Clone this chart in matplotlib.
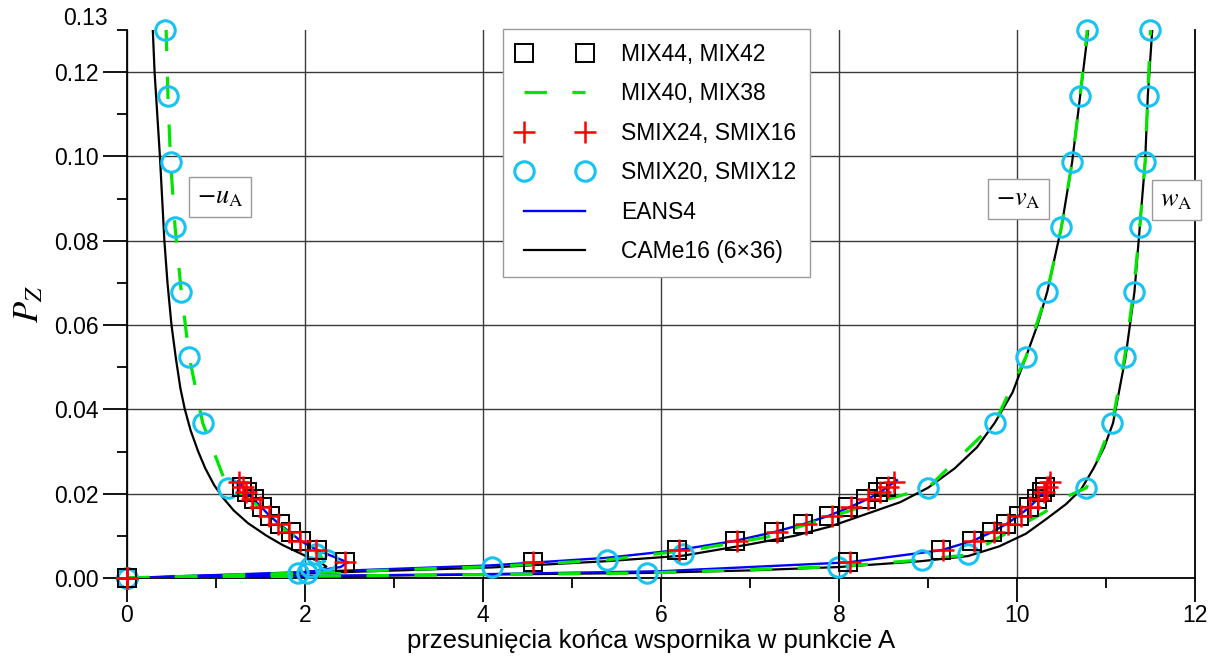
import numpy as np
import matplotlib
matplotlib.use("Agg")
from matplotlib import pyplot as plt
from matplotlib.lines import Line2D

plt.rcParams["font.family"] = ["Liberation Sans", "DejaVu Sans"]
plt.rcParams["mathtext.fontset"] = "stix"

# MIX44, MIX42 (squares)
P_mix = [0, 0.0037, 0.0066, 0.0088, 0.0109, 0.0128, 0.0148, 0.0168, 0.0187, 0.0203, 0.0215]
u_mix = [0, 2.45, 2.13, 1.95, 1.84, 1.72, 1.61, 1.52, 1.43, 1.35, 1.29]
v_mix = [0, 4.56, 6.18, 6.83, 7.27, 7.60, 7.89, 8.10, 8.30, 8.44, 8.53]
w_mix = [0, 8.10, 9.15, 9.50, 9.72, 9.88, 10.02, 10.13, 10.22, 10.28, 10.31]

# SMIX24, SMIX16 (crosses)
P_smix24 = [0, 0.0037, 0.0066, 0.0088, 0.0109, 0.0128, 0.0148, 0.0168, 0.0187, 0.0203, 0.0215, 0.0227]
u_smix24 = [0, 2.45, 2.12, 1.94, 1.82, 1.70, 1.59, 1.50, 1.41, 1.34, 1.30, 1.26]
v_smix24 = [0, 4.56, 6.20, 6.85, 7.30, 7.63, 7.92, 8.13, 8.33, 8.46, 8.55, 8.62]
w_smix24 = [0, 8.12, 9.17, 9.52, 9.74, 9.90, 10.04, 10.15, 10.24, 10.30, 10.34, 10.37]

# SMIX20, SMIX12 (circles)
P_smix20 = [0, 0.0012, 0.0026, 0.0043, 0.0058, 0.0214, 0.0368, 0.0524, 0.0679, 0.0833, 0.0987, 0.1144, 0.13]
u_smix20 = [0, 1.92, 2.06, 2.25, 2.12, 1.13, 0.85, 0.70, 0.61, 0.54, 0.49, 0.46, 0.43]
v_smix20 = [0, 2.02, 4.10, 5.39, 6.25, 9.00, 9.75, 10.10, 10.34, 10.50, 10.62, 10.71, 10.79]
w_smix20 = [0, 5.84, 7.99, 8.93, 9.45, 10.78, 11.07, 11.21, 11.31, 11.38, 11.44, 11.47, 11.50]

# MIX40, MIX38 (green dashed)
u_mix40 = [0, 1.90, 2.10, 2.22, 2.15, 2.00, 1.80, 1.60, 1.42, 1.25, 1.13, 0.85, 0.70, 0.61, 0.54, 0.49, 0.46, 0.44]
P_u_mix40 = [0, 0.0010, 0.0025, 0.0040, 0.0058, 0.0080, 0.0110, 0.0145, 0.0180, 0.0205, 0.0214, 0.0368, 0.0524, 0.0679, 0.0833, 0.0987, 0.1144, 0.13]
v_mix40 = [0, 2.00, 4.10, 5.40, 6.45, 7.19, 7.60, 7.95, 8.20, 8.45, 8.70, 9.00, 9.75, 10.10, 10.34, 10.50, 10.62, 10.71, 10.79]
P_v_mix40 = [0, 0.0012, 0.0027, 0.0043, 0.0070, 0.0097, 0.0125, 0.0148, 0.0165, 0.0182, 0.0196, 0.0214, 0.0368, 0.0524, 0.0679, 0.0833, 0.0987, 0.1144, 0.13]
w_mix40 = [0, 2.00, 4.00, 5.84, 8.00, 8.93, 9.45, 9.70, 10.00, 10.30, 10.60, 10.78, 11.07, 11.21, 11.31, 11.38, 11.44, 11.47, 11.50]
P_w_mix40 = [0, 0.0004, 0.0008, 0.0012, 0.0027, 0.0043, 0.0055, 0.0085, 0.0120, 0.0155, 0.0197, 0.0214, 0.0368, 0.0524, 0.0679, 0.0833, 0.0987, 0.1144, 0.13]

# EANS4 (blue)
u_eans = [0, 1.00, 2.00, 2.40, 2.48, 2.14, 1.95, 1.83, 1.71, 1.60, 1.51, 1.42, 1.34, 1.25]
P_u_eans = [0, 0.0006, 0.0013, 0.0026, 0.0037, 0.0066, 0.0088, 0.0109, 0.0128, 0.0148, 0.0168, 0.0187, 0.0203, 0.0230]
v_eans = [0, 2.00, 4.10, 5.40, 6.18, 6.83, 7.27, 7.60, 7.89, 8.12, 8.32, 8.46, 8.65]
P_v_eans = [0, 0.0014, 0.0030, 0.0048, 0.0066, 0.0088, 0.0109, 0.0128, 0.0148, 0.0168, 0.0187, 0.0203, 0.0232]
w_eans = [0, 2.00, 4.00, 6.00, 8.10, 9.15, 9.50, 9.72, 9.88, 10.02, 10.14, 10.23, 10.30, 10.37]
P_w_eans = [0, 0.0005, 0.0009, 0.0016, 0.0037, 0.0066, 0.0088, 0.0109, 0.0128, 0.0148, 0.0168, 0.0187, 0.0205, 0.0240]

# CAMe16 (6x36) (black)
u_came = [0, 1.00, 1.80, 2.15, 2.24, 2.17, 2.09, 2.05, 1.93, 1.75, 1.57, 1.36, 1.20, 1.08, 0.98, 0.88, 0.80,
	0.715, 0.65, 0.60, 0.55, 0.50, 0.455, 0.42, 0.395, 0.37, 0.34, 0.31, 0.29]
P_u_came = [0, 0.0005, 0.0010, 0.0017, 0.0027, 0.0037, 0.0045, 0.0048, 0.0060, 0.0078, 0.0100, 0.0130, 0.0160, 0.0190, 0.0220, 0.0260, 0.0300,
	0.0350, 0.0400, 0.0450, 0.0520, 0.0600, 0.0700, 0.0800, 0.0900, 0.1000, 0.1100, 0.1200, 0.1300]
v_came = [0, 2.00, 4.10, 5.40, 6.25, 7.00, 7.50, 7.90, 8.35, 8.69, 9.00, 9.30, 9.55, 9.75, 9.95, 10.10, 10.23, 10.34, 10.50, 10.62, 10.71, 10.80]
P_v_came = [0, 0.0011, 0.0025, 0.0040, 0.0053, 0.0080, 0.0100, 0.0122, 0.0155, 0.0180, 0.0214, 0.0260, 0.0310, 0.0368, 0.0440, 0.0524, 0.0600, 0.0679, 0.0833, 0.0987, 0.1144, 0.1300]
w_came = [0, 2.00, 4.00, 5.84, 7.00, 8.00, 8.93, 9.45, 9.80, 10.10, 10.33, 10.55, 10.72, 10.86, 10.98, 11.08, 11.22, 11.32, 11.38, 11.44, 11.47, 11.52]
P_w_came = [0, 0.0004, 0.0008, 0.0012, 0.0018, 0.0026, 0.0040, 0.0052, 0.0075, 0.0105, 0.0140, 0.0175, 0.0210, 0.0260, 0.0310, 0.0368, 0.0524, 0.0679, 0.0833, 0.0987, 0.1144, 0.1300]

green = "#00E600"
cyan = "#16C3F2"

fig = plt.figure(figsize=(12.27, 6.62), dpi=100)
ax = fig.add_axes([0.1035, 0.1269, 0.8704, 0.8278])

for x, p in [(u_came, P_u_came), (v_came, P_v_came), (w_came, P_w_came)]:
	ax.plot(x, p, color="black", lw=1.6, zorder=2)
for x, p in [(u_eans, P_u_eans), (v_eans, P_v_eans), (w_eans, P_w_eans)]:
	ax.plot(x, p, color="#0000FF", lw=1.7, zorder=3)
for x, p in [(u_mix40, P_u_mix40), (v_mix40, P_v_mix40), (w_mix40, P_w_mix40)]:
	ax.plot(x, p, color=green, lw=2.3, ls=(0, (7, 8)), zorder=4)
for x in [u_smix20, v_smix20, w_smix20]:
	ax.plot(x, P_smix20, ls="none", marker="o", ms=14, mfc="none", mec=cyan, mew=2.2, zorder=5, clip_on=False)
for x in [u_mix, v_mix, w_mix]:
	ax.plot(x, P_mix, ls="none", marker="s", ms=13, mfc="none", mec="black", mew=1.4, zorder=6, clip_on=False)
for x in [u_smix24, v_smix24, w_smix24]:
	ax.plot(x, P_smix24, ls="none", marker="+", ms=16, mec="red", mew=1.8, zorder=7, clip_on=False)

ax.set_xlim(0, 12)
ax.set_ylim(0, 0.13)
ax.set_xticks(np.arange(0, 13, 2))
ax.set_xticks(np.arange(1, 12, 2), minor=True)
ax.set_yticks(np.arange(0, 0.121, 0.02))
ax.set_yticklabels(["0.00", "0.02", "0.04", "0.06", "0.08", "0.10", "0.12"])
ax.set_yticks([0.01, 0.03, 0.05, 0.07, 0.09, 0.11, 0.13], minor=True)
ax.set_yticklabels(["", "", "", "", "", "", "0.13"], minor=True)
ax.get_yticklabels(minor=True)[-1].set_verticalalignment("bottom")

ax.tick_params(which="major", direction="out", length=17, width=1.3, labelsize=16.5, pad=3.5)
ax.tick_params(which="minor", direction="out", length=7, width=1.3, labelsize=16.5, pad=6.5)
ax.tick_params(axis="x", which="major", pad=2)

ax.spines["top"].set_visible(False)
for s in ["left", "bottom", "right"]:
	ax.spines[s].set_linewidth(1.3)
ax.grid(True, which="major", color="#3a3a3a", lw=1.0)
ax.set_axisbelow(True)

ax.set_xlabel("przesunięcia końca wspornika w punkcie A", fontsize=18.5, labelpad=1)
ax.xaxis.label.set_x(0.4906)
ax.set_ylabel(r"$P_Z$", fontsize=25, labelpad=6)

box = dict(boxstyle="square,pad=0.3", fc="white", ec="#9a9a9a", lw=1.0)
ax.text(1.045, 0.0904, r"$-u_{\mathrm{A}}$", fontsize=19, ha="center", va="center", bbox=box, zorder=8)
ax.text(10.02, 0.0900, r"$-v_{\mathrm{A}}$", fontsize=19, ha="center", va="center", bbox=box, zorder=8)
ax.text(11.79, 0.0897, r"$w_{\mathrm{A}}$", fontsize=19, ha="center", va="center", bbox=box, zorder=8, clip_on=False)

handles = [
	Line2D([], [], ls="none", marker="s", ms=13, mfc="none", mec="black", mew=1.4),
	Line2D([], [], color=green, lw=2.3, ls=(0, (7, 8))),
	Line2D([], [], ls="none", marker="+", ms=16, mec="red", mew=1.8),
	Line2D([], [], ls="none", marker="o", ms=14, mfc="none", mec=cyan, mew=2.2),
	Line2D([], [], color="#0000FF", lw=1.7),
	Line2D([], [], color="black", lw=1.6),
]
labels = ["MIX44, MIX42", "MIX40, MIX38", "SMIX24, SMIX16", "SMIX20, SMIX12", "EANS4", "CAMe16 (6×36)"]
leg = ax.legend(handles, labels, loc="upper left", bbox_to_anchor=(0.352, 1.002), borderaxespad=0,
	numpoints=2, fontsize=16.5, handlelength=3.3, handletextpad=1.24, labelspacing=0.72,
	borderpad=0.6, fancybox=False, framealpha=1, edgecolor="#9a9a9a")
leg.get_frame().set_linewidth(1.0)
leg.set_zorder(10)

plt.savefig("out.png", dpi=100)
